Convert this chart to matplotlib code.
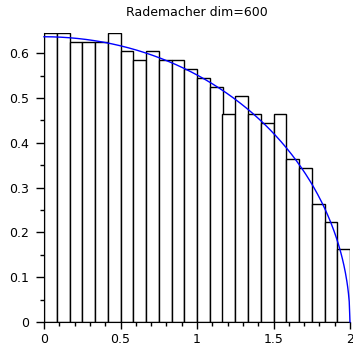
import numpy as np
import matplotlib
matplotlib.use("Agg")
import matplotlib.pyplot as plt
from matplotlib.ticker import MultipleLocator

# Histogram: 24 bins over [0, 2]
bin_edges_start = 0.0
bin_edges_stop = 2.0
n_bins = 24
heights = [0.645, 0.645, 0.625, 0.625, 0.625, 0.645, 0.605, 0.585,
           0.605, 0.585, 0.585, 0.565, 0.545, 0.525, 0.465, 0.505,
           0.465, 0.445, 0.465, 0.363, 0.343, 0.263, 0.223, 0.162]
title = "Rademacher dim=600"
x_ticks = [0, 0.5, 1, 1.5, 2]
x_tick_labels = ["0", "0.5", "1", "1.5", "2"]
y_ticks = [0, 0.1, 0.2, 0.3, 0.4, 0.5, 0.6]
y_tick_labels = ["0", "0.1", "0.2", "0.3", "0.4", "0.5", "0.6"]

# Quarter-circle law density (theoretical curve)
curve_x = np.linspace(0, 2, 400)
curve_y = np.sqrt(np.clip(4 - curve_x**2, 0, None)) / np.pi

edges = np.linspace(bin_edges_start, bin_edges_stop, n_bins + 1)
width = edges[1] - edges[0]

fig = plt.figure(figsize=(3.53, 3.45), dpi=100)
ax = fig.add_axes([44/353, 23/345, 306/353, (322-33)/345])

ax.bar(edges[:-1], heights, width=width, align="edge", facecolor="white",
       edgecolor="black", linewidth=1.0, zorder=2)
ax.plot(curve_x, curve_y, color="blue", linewidth=1.0, zorder=3, clip_on=False)

ax.set_xlim(0, 2)
ax.set_ylim(0, 0.645)
ax.spines["top"].set_visible(False)
ax.spines["right"].set_visible(False)
ax.set_xticks(x_ticks)
ax.set_xticklabels(x_tick_labels)
ax.set_yticks(y_ticks)
ax.set_yticklabels(y_tick_labels)
ax.xaxis.set_minor_locator(MultipleLocator(0.1))
ax.yaxis.set_minor_locator(MultipleLocator(0.05))
ax.tick_params(which="major", width=1, labelsize=9, direction="out")
ax.tick_params(axis="x", which="major", length=5, pad=3)
ax.tick_params(axis="y", which="major", length=6, pad=5)
ax.tick_params(which="minor", length=3, width=1, direction="out")
ax.set_title(title, fontsize=9, pad=12)

fig.savefig("out.png", dpi=100)
